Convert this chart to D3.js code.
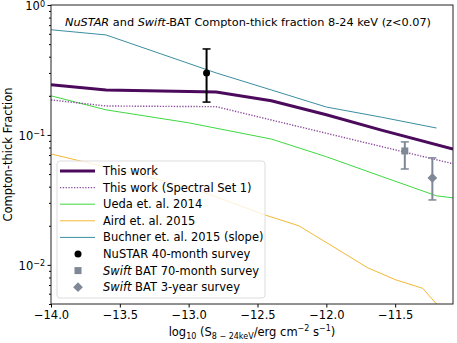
<!DOCTYPE html>
<html>
<head>
<meta charset="utf-8">
<script src="https://cdn.jsdelivr.net/npm/d3@7"></script>
<style>
  body { margin: 0; background: #fff; }
  text { font-family: "DejaVu Sans", sans-serif; fill: #000; }
</style>
</head>
<body>
<svg id="chart" width="457" height="343"></svg>
<script>
// data (x = log10 flux, y = CT fraction)
var thisWork = [[-14.0, 0.243], [-13.6, 0.222], [-12.8, 0.214], [-12.4, 0.183], [-12.0, 0.143], [-11.6, 0.109], [-11.08, 0.078]];
var spectralSet1 = [[-14.0, 0.186], [-13.6, 0.167], [-12.8, 0.165], [-12.0, 0.103], [-11.08, 0.060]];
var ueda = [[-14.0, 0.200], [-13.6, 0.156], [-13.0, 0.124], [-12.4, 0.093], [-12.0, 0.068], [-11.6, 0.048], [-11.2, 0.034], [-11.08, 0.0328]];
var aird = [[-14.0, 0.0714], [-13.0, 0.0398], [-12.7, 0.0305], [-12.45, 0.0243], [-12.2, 0.0200], [-11.95, 0.0138], [-11.7, 0.0095], [-11.5, 0.0077], [-11.3, 0.0066], [-11.2, 0.0050], [-11.1, 0.0035]];
var buchner = [[-14.0, 0.645], [-13.6, 0.588], [-13.2, 0.42], [-12.8, 0.30], [-12.4, 0.222], [-12.0, 0.164], [-11.6, 0.137], [-11.2, 0.113]];

// points: x, y, lower, upper
var nustar = [[-12.87, 0.30, 0.179, 0.459]];
var bat70 = [[-11.43, 0.0753, 0.0547, 0.0884]];
var bat3yr = [[-11.23, 0.0467, 0.0316, 0.0666]];

var xTicks = [-14.0, -13.5, -13.0, -12.5, -12.0, -11.5];
var yTicks = [1, 0.1, 0.01];

var svg = d3.select("#chart");
var margin = { top: 5, right: 4, bottom: 39, left: 51 };
var width = 457 - margin.left - margin.right;
var height = 343 - margin.top - margin.bottom;

var g = svg.append("g")
    .attr("transform", "translate(" + margin.left + "," + margin.top + ")");

var x = d3.scaleLinear().domain([-14, -11.08]).range([0, width]);
var y = d3.scaleLog().domain([0.005, 1]).range([height, 0]);

g.append("clipPath").attr("id", "clip")
    .append("rect").attr("width", width).attr("height", height);

var plot = g.append("g").attr("clip-path", "url(#clip)");

var line = d3.line()
    .x(d => x(d[0]))
    .y(d => y(d[1]));

var series = [
    { name: "buchner", data: buchner, color: "#3b8ea0", w: 1 },
    { name: "aird", data: aird, color: "#f4b836", w: 1 },
    { name: "ueda", data: ueda, color: "#3fd83f", w: 1 },
    { name: "ss1", data: spectralSet1, color: "#8b4a9c", w: 1.4, dash: "1.3,1.5" },
    { name: "this", data: thisWork, color: "#4b0a5c", w: 3 }
];

series.forEach(function(s) {
    plot.append("path")
        .datum(s.data)
        .attr("d", line)
        .attr("fill", "none")
        .attr("stroke", s.color)
        .attr("stroke-width", s.w)
        .attr("stroke-dasharray", s.dash || null);
});

// error bars
function errBars(data, color) {
    data.forEach(function(d) {
        var px = x(d[0]);
        plot.append("line")
            .attr("x1", px).attr("x2", px)
            .attr("y1", y(d[2])).attr("y2", y(d[3]))
            .attr("stroke", color).attr("stroke-width", 2);
        [d[2], d[3]].forEach(function(v) {
            plot.append("line")
                .attr("x1", px - 4).attr("x2", px + 4)
                .attr("y1", y(v)).attr("y2", y(v))
                .attr("stroke", color).attr("stroke-width", 1.5);
        });
    });
}
errBars(nustar, "#000");
errBars(bat70, "#7f8896");
errBars(bat3yr, "#7f8896");

plot.selectAll(".nu").data(nustar).enter()
    .append("circle")
    .attr("cx", d => x(d[0])).attr("cy", d => y(d[1]))
    .attr("r", 3.5).attr("fill", "#000");

plot.selectAll(".sq").data(bat70).enter()
    .append("rect")
    .attr("x", d => x(d[0]) - 3.5).attr("y", d => y(d[1]) - 3.5)
    .attr("width", 7).attr("height", 7).attr("fill", "#7f8896");

var diamond = d3.symbol().type(d3.symbolDiamond2).size(60);
plot.selectAll(".dm").data(bat3yr).enter()
    .append("path")
    .attr("d", diamond)
    .attr("transform", d => "translate(" + x(d[0]) + "," + y(d[1]) + ")")
    .attr("fill", "#7f8896");

// axes
var xAxis = d3.axisBottom(x)
    .tickValues(xTicks)
    .tickSize(3.5)
    .tickPadding(3.5)
    .tickFormat(d => d3.format(".1f")(d).replace("-", "\u2212"));

var xg = g.append("g")
    .attr("transform", "translate(0," + height + ")")
    .call(xAxis);
xg.select(".domain").remove();
xg.selectAll("text").style("font-size", "11.5px").style("font-family", "DejaVu Sans");

var minor = [];
for (var e = -3; e < 0; e++) {
    for (var k = 2; k < 10; k++) {
        var v = k * Math.pow(10, e);
        if (v >= 0.005 && v <= 1) minor.push(v);
    }
}
var yMinor = d3.axisLeft(y).tickValues(minor).tickSize(2).tickFormat("");
var ym = g.append("g").call(yMinor);
ym.select(".domain").remove();

var yAxis = d3.axisLeft(y).tickValues(yTicks).tickSize(3.5).tickFormat("");
var yg = g.append("g").call(yAxis);
yg.select(".domain").remove();

var yExp = ["0", "\u22121", "\u22122"];
yTicks.forEach(function(t, i) {
    var tx = g.append("text")
        .attr("x", -6).attr("y", y(t) + 5)
        .attr("text-anchor", "end")
        .style("font-size", "11.5px");
    tx.append("tspan").text("10");
    tx.append("tspan").attr("dy", -3.5).style("font-size", "8px").text(yExp[i]);
});

g.append("rect")
    .attr("width", width).attr("height", height)
    .attr("fill", "none").attr("stroke", "#222").attr("stroke-width", 1);

// title
var title = g.append("text")
    .attr("x", 197).attr("y", 21)
    .attr("text-anchor", "middle")
    .style("font-size", "11.3px");
title.append("tspan").style("font-style", "italic").text("NuSTAR");
title.append("tspan").text(" and ");
title.append("tspan").style("font-style", "italic").text("Swift");
title.append("tspan").text("-BAT Compton-thick fraction 8-24 keV (z<0.07)");

// axis labels
svg.append("text")
    .attr("transform", "translate(12," + (margin.top + height / 2) + ") rotate(-90)")
    .attr("text-anchor", "middle")
    .style("font-size", "11.5px")
    .text("Compton-thick Fraction");

var xl = svg.append("text")
    .attr("x", margin.left + width / 2).attr("y", 336)
    .attr("text-anchor", "middle")
    .style("font-size", "11.5px");
xl.append("tspan").text("log");
xl.append("tspan").attr("dy", 3).style("font-size", "8px").text("10");
xl.append("tspan").attr("dy", -3).text(" (S");
xl.append("tspan").attr("dy", 3).style("font-size", "8px").text("8 \u2212 24keV");
xl.append("tspan").attr("dy", -3).text("/erg cm");
xl.append("tspan").attr("dy", -5).style("font-size", "8px").text("\u22122");
xl.append("tspan").attr("dy", 5).text(" s");
xl.append("tspan").attr("dy", -5).style("font-size", "8px").text("\u22121");
xl.append("tspan").attr("dy", 5).text(")");

// legend
var legendItems = [
    { label: ["This work"], type: "line", color: "#4b0a5c", w: 3 },
    { label: ["This work (Spectral Set 1)"], type: "line", color: "#8b4a9c", w: 1.4, dash: "1.3,1.5" },
    { label: ["Ueda et. al. 2014"], type: "line", color: "#3fd83f", w: 1 },
    { label: ["Aird et. al. 2015"], type: "line", color: "#f4b836", w: 1 },
    { label: ["Buchner et. al. 2015 (slope)"], type: "line", color: "#3b8ea0", w: 1 },
    { label: ["NuSTAR 40-month survey"], type: "circle", color: "#000" },
    { label: ["Swift", " BAT 70-month survey"], type: "square", color: "#7f8896" },
    { label: ["Swift", " BAT 3-year survey"], type: "diamond", color: "#7f8896" }
];

var lg = g.append("g").attr("transform", "translate(6,156)");
lg.append("rect")
    .attr("width", 208).attr("height", 137)
    .attr("rx", 3)
    .attr("fill", "#fff").attr("fill-opacity", 0.8)
    .attr("stroke", "#ddd").attr("stroke-width", 1);

legendItems.forEach(function(it, i) {
    var cy = 10 + i * 16.6;
    var row = lg.append("g").attr("transform", "translate(0," + cy + ")");
    if (it.type === "line") {
        row.append("line")
            .attr("x1", 3).attr("x2", 38)
            .attr("stroke", it.color).attr("stroke-width", it.w)
            .attr("stroke-dasharray", it.dash || null);
    } else if (it.type === "circle") {
        row.append("circle").attr("cx", 21).attr("r", 3.5).attr("fill", it.color);
    } else if (it.type === "square") {
        row.append("rect").attr("x", 17.5).attr("y", -3.5).attr("width", 7).attr("height", 7).attr("fill", it.color);
    } else {
        row.append("path").attr("d", diamond).attr("transform", "translate(21,0)").attr("fill", it.color);
    }
    var t = row.append("text").attr("x", 46).attr("y", 4).style("font-size", "11.5px");
    if (it.label.length === 2) {
        t.append("tspan").style("font-style", "italic").text(it.label[0]);
        t.append("tspan").text(it.label[1]);
    } else {
        t.text(it.label[0]);
    }
});
</script>
</body>
</html>
